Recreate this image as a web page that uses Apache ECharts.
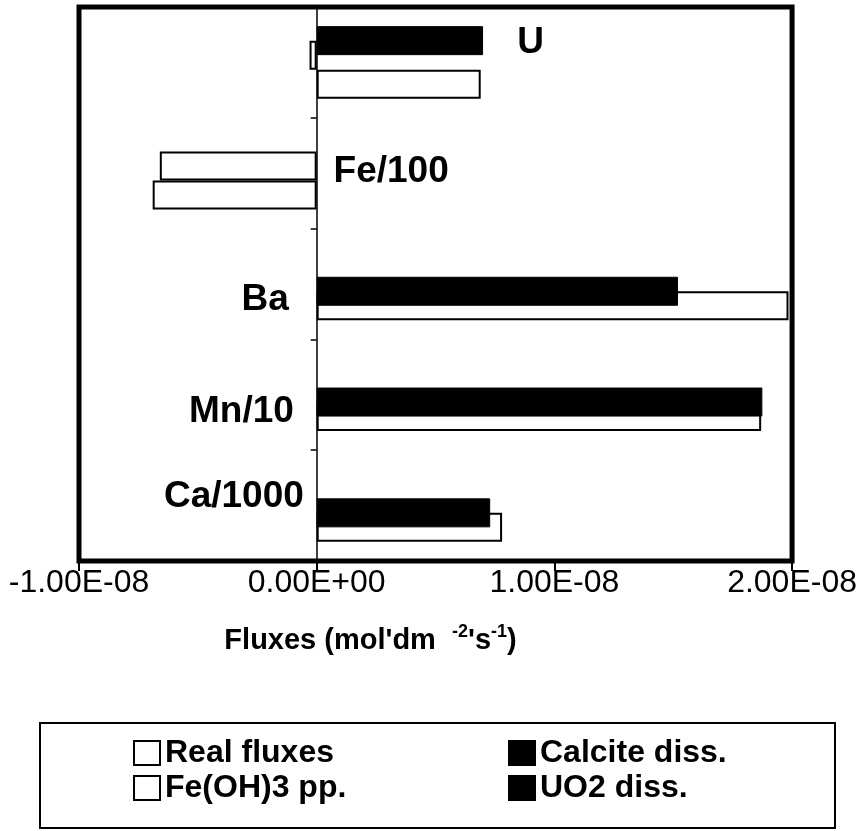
<!DOCTYPE html>
<html>
<head>
<meta charset="utf-8">
<script src="https://cdn.jsdelivr.net/npm/echarts@6/dist/echarts.min.js"></script>
<style>
html, body { margin: 0; padding: 0; background: #fff; }
#chart1 { width: 860px; height: 831px; }
</style>
</head>
<body>
<div id="chart1"></div>
<script>
var categories = ["Ca/1000", "Mn/10", "Ba", "Fe/100", "U"];
var realFluxes = [0.78e-8, 1.87e-8, 1.985e-8, -0.69e-8, 0.69e-8];
var feOH3 = [null, null, null, -0.66e-8, -0.03e-8];
var calciteDiss = [0.73e-8, 1.875e-8, 1.52e-8, null, null];
var uo2Diss = [null, null, null, null, 0.70e-8];
var xMin = -1e-8, xMax = 2e-8, xStep = 1e-8;

// where the element names sit next to the bars
var labelPlace = [
    { x: -0.054e-8, pos: "left", dy: -9 },
    { x: -0.096e-8, pos: "left", dy: 17 },
    { x: -0.117e-8, pos: "left", dy: 16 },
    { x: 0.071e-8, pos: "right", dy: -1 },
    { x: 0.844e-8, pos: "right", dy: -20 }
];

var fmtSci = function (v) {
    var s = Number(v).toExponential(2).toUpperCase();
    return s.replace(/E([+-])(\d)$/, "E$10$2");
};

var LoadChart = function () {
    var myChart = echarts.init(document.getElementById("chart1"));
    var font = "'Liberation Sans', Arial, sans-serif";
    var whiteBar = { color: "#fff", borderColor: "#000", borderWidth: 2 };
    var blackBar = { color: "#000", borderColor: "#000", borderWidth: 1 };

    var labelData = categories.map(function (c, i) {
        return {
            value: [labelPlace[i].x, c],
            label: { position: labelPlace[i].pos, offset: [0, labelPlace[i].dy] }
        };
    });

    var option = {
        animation: false,
        backgroundColor: "#fff",
        grid: {
            left: 79, right: 63, top: 7, bottom: 270,
            show: true, borderColor: "#000", borderWidth: 5, backgroundColor: "transparent"
        },
        legend: [{
            orient: "vertical", left: 128, top: 732, itemGap: 3,
            itemWidth: 26, itemHeight: 24, icon: "rect",
            data: ["Real fluxes", "Fe(OH)3 pp."],
            textStyle: { fontFamily: font, fontSize: 32, fontWeight: "bold", color: "#000" }
        }, {
            orient: "vertical", left: 503, top: 732, itemGap: 3,
            itemWidth: 26, itemHeight: 24, icon: "rect",
            data: ["Calcite diss.", "UO2 diss."],
            textStyle: { fontFamily: font, fontSize: 32, fontWeight: "bold", color: "#000" }
        }],
        graphic: [{
            type: "rect",
            shape: { x: 40, y: 723, width: 795, height: 105 },
            style: { fill: "none", stroke: "#000", lineWidth: 2 }
        }],
        xAxis: {
            type: "value", min: xMin, max: xMax, interval: xStep,
            axisLine: { show: false },
            axisTick: { show: true, length: 10, lineStyle: { color: "#000", width: 2 } },
            splitLine: { show: false },
            axisLabel: {
                formatter: fmtSci, margin: 6,
                fontFamily: font, fontSize: 32, color: "#000"
            },
            name: "{a|Fluxes (mol'dm  }{s|-2}{a|'s}{s|-1}{a|)}",
            nameLocation: "middle", nameGap: 62,
            nameTextStyle: {
                padding: [0, 130, 0, 0],
                rich: {
                    a: { fontFamily: font, fontSize: 29, fontWeight: "bold", color: "#000", lineHeight: 36 },
                    s: { fontFamily: font, fontSize: 18, fontWeight: "bold", color: "#000", verticalAlign: "top", lineHeight: 36 }
                }
            }
        },
        yAxis: {
            type: "category", data: categories,
            axisLine: { show: true, onZero: true, lineStyle: { color: "#000", width: 1.5 } },
            axisTick: { show: true, length: 6, lineStyle: { color: "#000", width: 1.5 } },
            axisLabel: { show: false },
            splitLine: { show: false }
        },
        series: [
            { name: "UO2 diss.", type: "bar", data: uo2Diss, barWidth: 29, barGap: "-50%", itemStyle: blackBar, z: 4 },
            { name: "Fe(OH)3 pp.", type: "bar", data: feOH3, barWidth: 29, barGap: "-50%", itemStyle: whiteBar, z: 2 },
            { name: "Calcite diss.", type: "bar", data: calciteDiss, barWidth: 29, barGap: "-50%", itemStyle: blackBar, z: 4 },
            { name: "Real fluxes", type: "bar", data: realFluxes, barWidth: 29, barGap: "-50%", itemStyle: whiteBar, z: 2 },
            {
                name: "labels", type: "scatter", data: labelData, symbolSize: 0, z: 6, silent: true,
                itemStyle: { opacity: 1 },
                label: {
                    show: true, distance: 0,
                    formatter: function (p) { return p.value[1]; },
                    fontFamily: font, fontSize: 37, fontWeight: "bold", color: "#000"
                }
            }
        ]
    };
    myChart.setOption(option);
};

LoadChart();
</script>
</body>
</html>
